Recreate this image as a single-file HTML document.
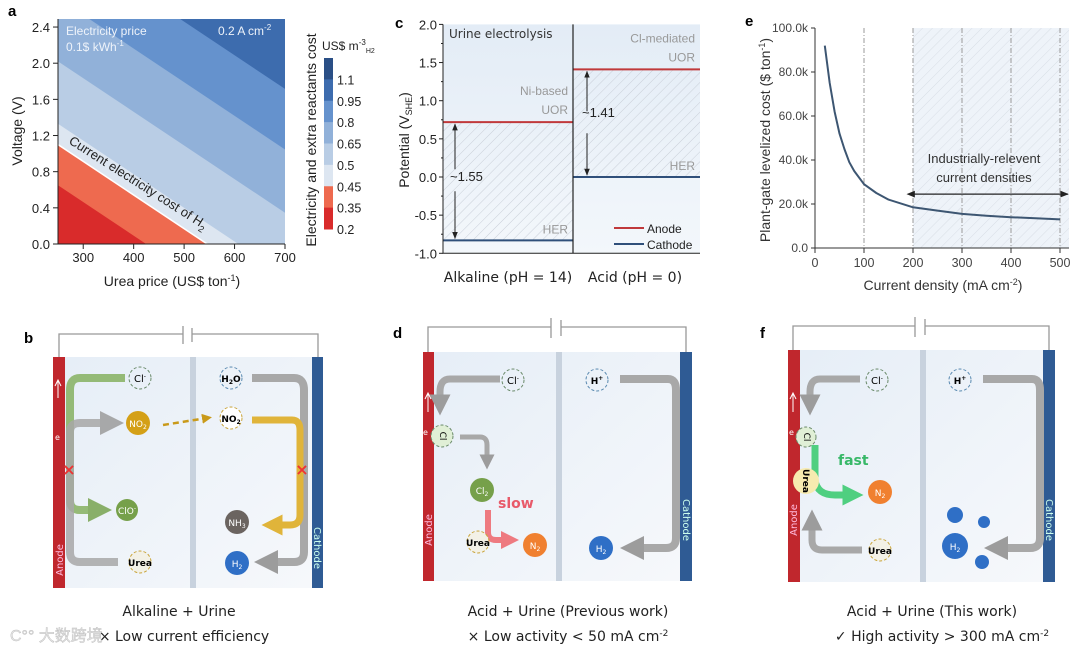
<!DOCTYPE html>
<html><head><meta charset="utf-8">
<style>
html,body{margin:0;padding:0;background:#fff;width:1080px;height:652px;overflow:hidden;}
svg{display:block;font-family:"Liberation Sans",Arial,sans-serif;}
.d{font-family:"DejaVu Sans","Liberation Sans",sans-serif;}
</style></head>
<body>
<svg id="fig" width="1080" height="652" viewBox="0 0 1080 652">
<defs>
  <pattern id="hatch" width="7" height="7" patternUnits="userSpaceOnUse" patternTransform="rotate(45)">
    <line x1="0" y1="0" x2="0" y2="7" stroke="#c9cfd8" stroke-width="1"/>
  </pattern>
  <linearGradient id="bgc" x1="0" y1="0" x2="0" y2="1"><stop offset="0" stop-color="#e3ecf6"/><stop offset="1" stop-color="#f3f7fb"/></linearGradient>
  <linearGradient id="cell" x1="0" y1="0" x2="1" y2="1"><stop offset="0" stop-color="#e6eef7"/><stop offset="1" stop-color="#f6f8fb"/></linearGradient>
  <marker id="mg" viewBox="0 0 10 10" refX="5" refY="5" markerWidth="3" markerHeight="3" orient="auto"><path d="M0,0L10,5L0,10z" fill="#9c9c9c"/></marker>
  <marker id="mgr" viewBox="0 0 10 10" refX="5" refY="5" markerWidth="3" markerHeight="3" orient="auto"><path d="M0,0L10,5L0,10z" fill="#7fa85a"/></marker>
  <marker id="mgo" viewBox="0 0 10 10" refX="5" refY="5" markerWidth="3" markerHeight="3" orient="auto"><path d="M0,0L10,5L0,10z" fill="#e0b43a"/></marker>
  <marker id="mgd" viewBox="0 0 10 10" refX="5" refY="5" markerWidth="4" markerHeight="4" orient="auto"><path d="M0,0L10,5L0,10z" fill="#c99a1a"/></marker>
  <marker id="mpk" viewBox="0 0 10 10" refX="5" refY="5" markerWidth="3" markerHeight="3" orient="auto"><path d="M0,0L10,5L0,10z" fill="#ee7a80"/></marker>
  <marker id="mfa" viewBox="0 0 10 10" refX="5" refY="5" markerWidth="3" markerHeight="3" orient="auto"><path d="M0,0L10,5L0,10z" fill="#4fcf80"/></marker>
  <marker id="ak" viewBox="0 0 10 10" refX="9" refY="5" markerWidth="7" markerHeight="7" orient="auto"><path d="M0,1L10,5L0,9z" fill="#222"/></marker>
  <marker id="aks" viewBox="0 0 10 10" refX="1" refY="5" markerWidth="7" markerHeight="7" orient="auto-start-reverse"><path d="M0,1L10,5L0,9z" fill="#222"/></marker>
  <clipPath id="clipA"><rect x="58" y="19" width="227" height="225"/></clipPath>
</defs>

<!-- ===== Panel a ===== -->
<g id="panelA">
  <text x="8" y="16" font-size="15" font-weight="bold">a</text>
  <g id="aBands" clip-path="url(#clipA)"></g>
  <g id="aAxes"></g>
  <text x="66" y="35" font-size="12" fill="#eef3fa">Electricity price</text>
  <text x="66" y="51" font-size="12" fill="#eef3fa">0.1$ kWh<tspan font-size="8" dy="-5">-1</tspan></text>
  <text x="218" y="35" font-size="12" fill="#eef3fa">0.2 A cm<tspan font-size="8" dy="-5">-2</tspan></text>
  <text transform="translate(68,143) rotate(32.5)" font-size="13" fill="#222">Current electricity cost of H<tspan font-size="9" dy="4">2</tspan></text>
  <text x="172" y="286" font-size="14" text-anchor="middle" fill="#222">Urea price (US$ ton<tspan font-size="9" dy="-5">-1</tspan><tspan dy="5">)</tspan></text>
  <text transform="translate(22,131) rotate(-90)" font-size="14" text-anchor="middle" fill="#222">Voltage (V)</text>
  <g id="aCbar"></g>
  <text x="322" y="50" font-size="12" fill="#222">US$ m<tspan font-size="8" dy="-5">-3</tspan><tspan font-size="7" dy="8">H2</tspan></text>
  <text transform="translate(316,140) rotate(-90)" font-size="14" text-anchor="middle" fill="#222">Electricity and extra reactants cost</text>
</g>

<!-- ===== Panel c ===== -->
<g id="panelC">
  <text x="395" y="28" font-size="15" font-weight="bold">c</text>
  <g id="cPlot"></g>
  <text x="449" y="38" font-size="12" fill="#333" class="d">Urine electrolysis</text>
  <text transform="translate(409,140) rotate(-90)" font-size="14" text-anchor="middle" fill="#222">Potential (V<tspan font-size="9" dy="3">SHE</tspan><tspan dy="-3">)</tspan></text>
  <text x="508" y="282" font-size="14" text-anchor="middle" fill="#222" class="d">Alkaline (pH = 14)</text>
  <text x="635" y="282" font-size="14" text-anchor="middle" fill="#222" class="d">Acid (pH = 0)</text>
  <g>
    <line x1="614" y1="228" x2="644" y2="228" stroke="#c0393b" stroke-width="2"/>
    <text x="647" y="233" font-size="12" fill="#222">Anode</text>
    <line x1="614" y1="244" x2="644" y2="244" stroke="#2f4f7a" stroke-width="2"/>
    <text x="647" y="249" font-size="12" fill="#222">Cathode</text>
  </g>
</g>

<!-- ===== Panel e ===== -->
<g id="panelE">
  <text x="745" y="26" font-size="15" font-weight="bold">e</text>
  <g id="ePlot"></g>
  <text x="943" y="290" font-size="14" text-anchor="middle" fill="#333">Current density (mA cm<tspan font-size="9" dy="-5">-2</tspan><tspan dy="5">)</tspan></text>
  <text transform="translate(770,140) rotate(-90)" font-size="14" text-anchor="middle" fill="#333">Plant-gate levelized cost ($ ton<tspan font-size="9" dy="-5">-1</tspan><tspan dy="5">)</tspan></text>
  <text x="984" y="163" font-size="13" text-anchor="middle" fill="#333">Industrially-relevent</text>
  <text x="984" y="182" font-size="13" text-anchor="middle" fill="#333">current densities</text>
</g>

<!-- ===== Panel b ===== -->
<g class="d">
  <text x="24" y="343" font-size="15" font-weight="bold" font-family="Liberation Sans">b</text>
  <path d="M59,357V334H183M192,334H318V357M183,326V344M192,328V342" fill="none" stroke="#999" stroke-width="1.3"/>
  <rect x="65" y="357" width="247" height="231" fill="url(#cell)"/>
  <rect x="190" y="357" width="6" height="231" fill="#c8d2de"/>
  <rect x="53" y="357" width="12" height="231" fill="#c0272d"/>
  <rect x="312" y="357" width="11" height="231" fill="#2f5b94"/>
  <text transform="translate(63,560) rotate(-90)" font-size="10" fill="#fbd" text-anchor="middle">Anode</text>
  <text transform="translate(314,548) rotate(90)" font-size="10" fill="#cfe" text-anchor="middle">Cathode</text>
  <path d="M58,398V380M55,386L58,380L61,386" stroke="#fff" fill="none" stroke-width="1"/><text x="55" y="440" font-size="8" fill="#fff">e</text>
  <path d="M125,378H80Q70,378 70,390V500Q70,510 80,510H100" fill="none" stroke="#8cb56a" stroke-width="8" marker-end="url(#mgr)" opacity="0.9"/>
  <path d="M118,562H80Q70,562 70,552V432Q70,423 80,423H112" fill="none" stroke="#a8a8a8" stroke-width="8" marker-end="url(#mg)" opacity="0.85"/>
  <path d="M252,378H294Q304,378 304,390V552Q304,562 294,562H266" fill="none" stroke="#a8a8a8" stroke-width="8" marker-end="url(#mg)"/>
  <path d="M252,420H292Q300,420 300,430V515Q300,525 290,525H272" fill="none" stroke="#e0b43a" stroke-width="7" marker-end="url(#mgo)"/>
  <path d="M163,425L207,418" stroke="#c99a1a" stroke-width="2.5" stroke-dasharray="6,4" marker-end="url(#mgd)" fill="none"/>
  <text x="69" y="475" font-size="16" fill="#e33" text-anchor="middle" font-weight="bold">×</text>
  <text x="302" y="475" font-size="16" fill="#e33" text-anchor="middle" font-weight="bold">×</text>
  <circle cx="140" cy="378" r="11" fill="none" stroke="#6a8a6a" stroke-dasharray="3,2"/><text x="140" y="382" font-size="10" text-anchor="middle">Cl<tspan font-size="6" dy="-4">-</tspan></text>
  <circle cx="138" cy="423" r="12" fill="#d4a017"/><text x="138" y="427" font-size="9" fill="#fff" text-anchor="middle">NO<tspan font-size="6" dy="2">2</tspan></text>
  <circle cx="127" cy="510" r="11" fill="#76a04a"/><text x="127" y="514" font-size="9" fill="#fff" text-anchor="middle">ClO<tspan font-size="6" dy="-4">-</tspan></text>
  <circle cx="140" cy="562" r="11" fill="#f3f1e6" stroke="#c9a43a" stroke-dasharray="3,2"/><text x="140" y="566" font-size="9" text-anchor="middle" font-weight="bold">Urea</text>
  <circle cx="231" cy="378" r="11" fill="none" stroke="#5a8ab0" stroke-dasharray="3,2"/><text x="231" y="382" font-size="9" text-anchor="middle" font-weight="bold">H<tspan font-size="6" dy="2">2</tspan><tspan dy="-2">O</tspan></text>
  <circle cx="231" cy="418" r="11" fill="#fff" stroke="#c9a43a" stroke-dasharray="3,2"/><text x="231" y="422" font-size="9" text-anchor="middle" font-weight="bold">NO<tspan font-size="6" dy="2">2</tspan></text>
  <circle cx="237" cy="522" r="12" fill="#6b6460"/><text x="237" y="526" font-size="9" fill="#fff" text-anchor="middle">NH<tspan font-size="6" dy="2">3</tspan></text>
  <circle cx="237" cy="563" r="12" fill="#2f6fc6"/><text x="237" y="567" font-size="9" fill="#fff" text-anchor="middle">H<tspan font-size="6" dy="2">2</tspan></text>
  <text x="179" y="616" font-size="14" text-anchor="middle" fill="#222">Alkaline + Urine</text>
  <text x="184" y="641" font-size="14" text-anchor="middle" fill="#222">× Low current efficiency</text>
  <text x="10" y="641" font-size="16" fill="#e4e4e4" font-family="Liberation Sans,Noto Sans CJK SC,sans-serif" stroke="#bbb" stroke-width="0.4">C°° 大数跨境</text>
</g>

<!-- ===== Panel d ===== -->
<g class="d">
  <text x="393" y="338" font-size="15" font-weight="bold" font-family="Liberation Sans">d</text>
  <path d="M428,352V327H551M561,327H686V352M551,318V338M561,320V336" fill="none" stroke="#999" stroke-width="1.3"/>
  <rect x="434" y="352" width="246" height="229" fill="url(#cell)"/>
  <rect x="556" y="352" width="6" height="229" fill="#c8d2de"/>
  <rect x="423" y="352" width="11" height="229" fill="#c0272d"/>
  <rect x="680" y="352" width="12" height="229" fill="#2f5b94"/>
  <text transform="translate(432,530) rotate(-90)" font-size="10" fill="#fbd" text-anchor="middle">Anode</text>
  <text transform="translate(683,520) rotate(90)" font-size="10" fill="#cfe" text-anchor="middle">Cathode</text>
  <path d="M428,412V393M425,399L428,393L431,399" stroke="#fff" fill="none" stroke-width="1"/><text x="423" y="435" font-size="8" fill="#fff">e</text>
  <path d="M500,379H450Q440,379 440,392V405" fill="none" stroke="#a8a8a8" stroke-width="7" marker-end="url(#mg)"/>
  <path d="M460,437H480Q487,437 487,445V462" fill="none" stroke="#a8a8a8" stroke-width="5" marker-end="url(#mg)"/>
  <path d="M488,510V532Q488,540 496,540H510" fill="none" stroke="#ee7a80" stroke-width="6" marker-end="url(#mpk)"/>
  <path d="M620,379H668Q676,379 676,390V538Q676,548 666,548H632" fill="none" stroke="#a8a8a8" stroke-width="8" marker-end="url(#mg)"/>
  <circle cx="513" cy="380" r="11" fill="none" stroke="#6a8a6a" stroke-dasharray="3,2"/><text x="513" y="384" font-size="10" text-anchor="middle">Cl<tspan font-size="6" dy="-4">-</tspan></text>
  <circle cx="442" cy="436" r="11" fill="#e0efd6" stroke="#6a8a6a" stroke-dasharray="3,2"/><text transform="translate(440,436) rotate(90)" font-size="9" text-anchor="middle">Cl</text>
  <circle cx="482" cy="490" r="12" fill="#76a04a"/><text x="482" y="494" font-size="9" fill="#fff" text-anchor="middle">Cl<tspan font-size="6" dy="2">2</tspan></text>
  <text x="498" y="508" font-size="14" font-weight="bold" fill="#e85a6a">slow</text>
  <circle cx="478" cy="542" r="11" fill="#f3f1e6" stroke="#c9a43a" stroke-dasharray="3,2"/><text x="478" y="546" font-size="9" text-anchor="middle" font-weight="bold">Urea</text>
  <circle cx="535" cy="545" r="12" fill="#f08030"/><text x="535" y="549" font-size="9" fill="#fff" text-anchor="middle">N<tspan font-size="6" dy="2">2</tspan></text>
  <circle cx="597" cy="380" r="11" fill="none" stroke="#5a8ab0" stroke-dasharray="3,2"/><text x="597" y="384" font-size="9" text-anchor="middle" font-weight="bold">H<tspan font-size="6" dy="-4">+</tspan></text>
  <circle cx="601" cy="548" r="12" fill="#2f6fc6"/><text x="601" y="552" font-size="9" fill="#fff" text-anchor="middle">H<tspan font-size="6" dy="2">2</tspan></text>
  <text x="568" y="616" font-size="14" text-anchor="middle" fill="#222">Acid + Urine (Previous work)</text>
  <text x="568" y="641" font-size="14" text-anchor="middle" fill="#222">×  Low activity &lt; 50 mA cm<tspan font-size="9" dy="-5">-2</tspan></text>
</g>

<!-- ===== Panel f ===== -->
<g class="d">
  <text x="760" y="338" font-size="15" font-weight="bold" font-family="Liberation Sans">f</text>
  <path d="M793,350V326H915M925,326H1049V350M915,317V337M925,319V335" fill="none" stroke="#999" stroke-width="1.3"/>
  <rect x="800" y="350" width="243" height="232" fill="url(#cell)"/>
  <rect x="920" y="350" width="6" height="232" fill="#c8d2de"/>
  <rect x="788" y="350" width="12" height="232" fill="#c0272d"/>
  <rect x="1043" y="350" width="12" height="232" fill="#2f5b94"/>
  <text transform="translate(797,520) rotate(-90)" font-size="10" fill="#fbd" text-anchor="middle">Anode</text>
  <text transform="translate(1046,520) rotate(90)" font-size="10" fill="#cfe" text-anchor="middle">Cathode</text>
  <path d="M793,412V393M790,399L793,393L796,399" stroke="#fff" fill="none" stroke-width="1"/><text x="789" y="435" font-size="8" fill="#fff">e</text>
  <path d="M860,379H820Q810,379 810,392V405" fill="none" stroke="#a8a8a8" stroke-width="7" marker-end="url(#mg)"/>
  <path d="M862,550H822Q812,550 812,540V520" fill="none" stroke="#a8a8a8" stroke-width="7" marker-end="url(#mg)"/>
  <path d="M815,445V480Q817,495 835,495H853" fill="none" stroke="#4fcf80" stroke-width="7" marker-end="url(#mfa)"/>
  <path d="M983,379H1032Q1040,379 1040,390V538Q1040,548 1030,548H996" fill="none" stroke="#a8a8a8" stroke-width="8" marker-end="url(#mg)"/>
  <circle cx="877" cy="380" r="11" fill="none" stroke="#6a8a6a" stroke-dasharray="3,2"/><text x="877" y="384" font-size="10" text-anchor="middle">Cl<tspan font-size="6" dy="-4">-</tspan></text>
  <circle cx="806" cy="437" r="10" fill="#e0efd6" stroke="#6a8a6a" stroke-dasharray="3,2"/><text transform="translate(804,437) rotate(90)" font-size="9" text-anchor="middle">Cl</text>
  <circle cx="806" cy="481" r="13" fill="#f7ebb0"/><text transform="translate(803,481) rotate(90)" font-size="9" text-anchor="middle" font-weight="bold">Urea</text>
  <text x="838" y="465" font-size="14" font-weight="bold" fill="#38b868">fast</text>
  <circle cx="880" cy="492" r="12" fill="#f08030"/><text x="880" y="496" font-size="9" fill="#fff" text-anchor="middle">N<tspan font-size="6" dy="2">2</tspan></text>
  <circle cx="880" cy="550" r="11" fill="#f3f1e6" stroke="#c9a43a" stroke-dasharray="3,2"/><text x="880" y="554" font-size="9" text-anchor="middle" font-weight="bold">Urea</text>
  <circle cx="960" cy="380" r="11" fill="none" stroke="#5a8ab0" stroke-dasharray="3,2"/><text x="960" y="384" font-size="9" text-anchor="middle" font-weight="bold">H<tspan font-size="6" dy="-4">+</tspan></text>
  <circle cx="955" cy="515" r="8" fill="#2f6fc6"/><circle cx="984" cy="522" r="6" fill="#2f6fc6"/><circle cx="982" cy="562" r="7" fill="#2f6fc6"/>
  <circle cx="955" cy="546" r="13" fill="#2f6fc6"/><text x="955" y="550" font-size="9" fill="#fff" text-anchor="middle">H<tspan font-size="6" dy="2">2</tspan></text>
  <text x="932" y="616" font-size="14" text-anchor="middle" fill="#222">Acid + Urine (This work)</text>
  <text x="942" y="641" font-size="14" text-anchor="middle" fill="#222">✓  High activity &gt; 300 mA cm<tspan font-size="9" dy="-5">-2</tspan></text>
</g>
</svg>

<script>
const NS='http://www.w3.org/2000/svg';
function mk(tag,attrs,parent){const e=document.createElementNS(NS,tag);for(const k in attrs)e.setAttribute(k,attrs[k]);parent.appendChild(e);return e;}

/* ---------- Panel a data ---------- */
const aLevels=[0.35,0.45,0.5,0.65,0.8,0.95];
const aIntercepts=[0.65,1.10,1.33,2.02,2.72,3.39];
const aSlope=-0.00372;
const aBandColors=['#d92b2b','#ee6a4f','#dde6f1','#b9cde5','#91b1d9','#6592cd','#3d6cae'];
const aCbarColors=['#d92b2b','#ee6a4f','#dde6f1','#b9cde5','#91b1d9','#6592cd','#3d6cae','#2a4f86'];
const aCbarLabels=['1.1','0.95','0.8','0.65','0.5','0.45','0.35','0.2'];
const aXTicks=[300,400,500,600,700];
const aYTicks=[0.0,0.4,0.8,1.2,1.6,2.0,2.4];
const ax=u=>58+(u-250)/450*227, ay=v=>244-v*90.4;

const aB=document.getElementById('aBands');
let r=mk('rect',{x:58,y:19,width:227,height:225,fill:aBandColors[6]},aB);


for(let i=aLevels.length-1;i>=0;i--){
  const b=aIntercepts[i],u2=2500;
  const p=mk('polygon',{points:`${ax(250)},${ay(b)} ${ax(u2)},${ay(b+aSlope*(u2-250))} ${ax(u2)},${ay(-5)} ${ax(250)},${ay(-5)}`,fill:aBandColors[i]},aB);
  
  
}
mk('line',{x1:ax(250),y1:ay(aIntercepts[1]),x2:ax(250+3000),y2:ay(aIntercepts[1]+aSlope*3000),stroke:'#fff','stroke-width':1.5},aB);
const aA=document.getElementById('aAxes');
mk('path',{d:'M58,19V244H285',fill:'none',stroke:'#222','stroke-width':1},aA);
aXTicks.forEach(t=>{mk('line',{x1:ax(t),y1:244,x2:ax(t),y2:249,stroke:'#222'},aA);
  const tx=mk('text',{x:ax(t),y:262,'font-size':13,'text-anchor':'middle',fill:'#222'},aA);tx.textContent=t;
  });
aYTicks.forEach(t=>{mk('line',{x1:53,y1:ay(t),x2:58,y2:ay(t),stroke:'#222'},aA);
  const tx=mk('text',{x:50,y:ay(t)+5,'font-size':13,'text-anchor':'end',fill:'#222'},aA);tx.textContent=t.toFixed(1);
  });
const cb=document.getElementById('aCbar');const segH=171/8;
aCbarColors.slice().reverse().forEach((c,i)=>{const s=mk('rect',{x:324,y:58+i*segH,width:9,height:segH+0.5,fill:c},cb);
  });
aCbarLabels.forEach((l,i)=>{const tx=mk('text',{x:337,y:58+(i+1)*segH+5,'font-size':12.5,fill:'#222'},cb);tx.textContent=l;
  });

/* ---------- Panel c data ---------- */
const cCategories=['Alkaline (pH = 14)','Acid (pH = 0)'];
const cAnode=[0.72,1.41];
const cCathode=[-0.83,0.0];
const cGapLabels=['~1.55','~1.41'];
const cYTicks=[-1.0,-0.5,0.0,0.5,1.0,1.5,2.0];
const cx0=443,cx1=700,cmid=573;
const cy=v=>177-v*76.3;
const cP=document.getElementById('cPlot');
mk('rect',{x:cx0,y:cy(2),width:cx1-cx0,height:cy(-1)-cy(2),fill:'url(#bgc)'},cP);
const cols=[[cx0,cmid],[cmid,cx1]];
cCategories.forEach((c,i)=>{
  const [l,rr]=cols[i];
  const h=mk('rect',{x:l,y:cy(cAnode[i]),width:rr-l,height:cy(cCathode[i])-cy(cAnode[i]),fill:'url(#hatch)'},cP);
  
  const a=mk('line',{x1:l,y1:cy(cAnode[i]),x2:rr,y2:cy(cAnode[i]),stroke:'#c0393b','stroke-width':2},cP);
  
  const k=mk('line',{x1:l,y1:cy(cCathode[i]),x2:rr,y2:cy(cCathode[i]),stroke:'#2f4f7a','stroke-width':2},cP);
  
  const axx=l+(i==0?12:14);const midv=(cAnode[i]+cCathode[i])/2;
  mk('line',{x1:axx,y1:cy(midv)-12,x2:axx,y2:cy(cAnode[i])+2,stroke:'#222','stroke-width':1,'marker-end':'url(#ak)'},cP);
  mk('line',{x1:axx,y1:cy(midv)+10,x2:axx,y2:cy(cCathode[i])-2,stroke:'#222','stroke-width':1,'marker-end':'url(#ak)'},cP);
  const t=mk('text',{x:axx-5,y:i==0?cy(midv):cy(midv)-6,'font-size':13,fill:'#222'},cP);t.textContent=cGapLabels[i];
  
  const hl=mk('text',{x:rr-5,y:cy(cCathode[i])-7,'font-size':12,'text-anchor':'end',fill:'#999'},cP);hl.textContent='HER';
  
  const u1=mk('text',{x:rr-5,y:cy(cAnode[i])-8,'font-size':12,'text-anchor':'end',fill:'#999'},cP);u1.textContent='UOR';
  
  const u2=mk('text',{x:rr-5,y:cy(cAnode[i])-27,'font-size':12,'text-anchor':'end',fill:'#999'},cP);u2.textContent=i==0?'Ni-based':'Cl-mediated';
  
});
mk('line',{x1:cmid,y1:cy(2),x2:cmid,y2:cy(-1),stroke:'#222','stroke-width':1.2},cP);
mk('path',{d:`M${cx0},${cy(2)}V${cy(-1)}H${cx1}`,fill:'none',stroke:'#222','stroke-width':1},cP);
cYTicks.forEach(t=>{mk('line',{x1:cx0-4,y1:cy(t),x2:cx0,y2:cy(t),stroke:'#222'},cP);
  if(t<2) mk('line',{x1:cx0-2,y1:cy(t+0.25),x2:cx0,y2:cy(t+0.25),stroke:'#222'},cP);
  const tx=mk('text',{x:cx0-6,y:cy(t)+5,'font-size':13,'text-anchor':'end',fill:'#222'},cP);tx.textContent=t.toFixed(1);
  });

/* ---------- Panel e data ---------- */
const eX=[20,30,40,50,60,70,80,100,125,150,200,250,300,350,400,450,500];
const eY=[92,75,62,52,45,39,35,29,25,22,18.5,17,15.5,14.7,14,13.5,13];
const eXTicks=[0,100,200,300,400,500];
const eYTicks=[0,20,40,60,80,100];
const eYLabels=['0.0','20.0k','40.0k','60.0k','80.0k','100.0k'];
const ex=v=>815+v*0.49, ey=v=>248-v*2.2;
const eP=document.getElementById('ePlot');
const sh=mk('rect',{x:ex(200),y:ey(100),width:1069-ex(200),height:ey(0)-ey(100),fill:'#eef3f9'},eP);

mk('rect',{x:ex(200),y:ey(100),width:1069-ex(200),height:ey(0)-ey(100),fill:'url(#hatch)',opacity:0.6},eP);
[100,200,300,400,500].forEach(t=>mk('line',{x1:ex(t),y1:ey(100),x2:ex(t),y2:ey(0),stroke:'#999','stroke-dasharray':'5,2,1,2','stroke-width':1},eP));
mk('path',{d:`M815,${ey(100)}V${ey(0)}H1069`,fill:'none',stroke:'#333','stroke-width':1},eP);
eXTicks.forEach(t=>{mk('line',{x1:ex(t),y1:248,x2:ex(t),y2:253,stroke:'#333'},eP);
  const tx=mk('text',{x:ex(t),y:267,'font-size':12.5,'text-anchor':'middle',fill:'#444'},eP);tx.textContent=t;
  });
eYTicks.forEach((t,i)=>{mk('line',{x1:811,y1:ey(t),x2:815,y2:ey(t),stroke:'#333'},eP);
  const tx=mk('text',{x:808,y:ey(t)+4,'font-size':12,'text-anchor':'end',fill:'#444'},eP);tx.textContent=eYLabels[i];
  });
let dstr='';
for(let i=0;i<eX.length;i++){dstr+=(i?'L':'M')+ex(eX[i]).toFixed(1)+','+ey(eY[i]).toFixed(1);}
const ln=mk('path',{d:dstr,fill:'none',stroke:'#3d5672','stroke-width':2,'stroke-linejoin':'round'},eP);


mk('line',{x1:ex(200)+1,y1:ey(24.5),x2:1068,y2:ey(24.5),stroke:'#222','stroke-width':1.2,'marker-start':'url(#aks)','marker-end':'url(#ak)'},eP);
</script>
</body></html>
